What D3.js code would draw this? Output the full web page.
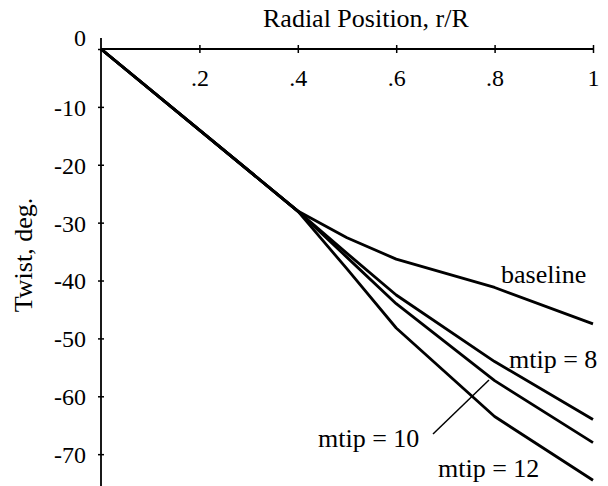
<!DOCTYPE html>
<html><head><meta charset="utf-8">
<script src="https://cdn.jsdelivr.net/npm/d3@7"></script>
<style>
html,body{margin:0;padding:0;background:#fff;}
svg{display:block;font-family:"Liberation Serif","Times New Roman",serif;}
</style></head>
<body>
<svg id="chart" width="608" height="486"></svg>
<script>
const radial = [0, 0.4, 0.5, 0.6, 0.8, 1.0];
const baseline = [0, -28, -32.6, -36.3, -41.2, -47.5];
const mtip8  = [0, -28, -35.3, -42.5, -54.0, -64.0];
const mtip10 = [0, -28, -36.0, -44.0, -57.3, -68.0];
const mtip12 = [0, -28, -38.0, -48.2, -63.5, -74.5];
const xTicks = [0.2, 0.4, 0.6, 0.8, 1];
const yTicks = [0, -10, -20, -30, -40, -50, -60, -70];
const seriesNames = ["baseline", "mtip = 8", "mtip = 10", "mtip = 12"];

const svg = d3.select("#chart");
const x = d3.scaleLinear().domain([0, 1]).range([101, 593]);
const y = d3.scaleLinear().domain([0, -75.5]).range([49, 486]);

// Y axis
const yAxis = svg.append("g").attr("transform", `translate(${x(0)},0)`)
  .call(d3.axisLeft(y).tickValues(yTicks).tickFormat(d => d === 0 ? "0" : String(d)).tickSizeOuter(0));
yAxis.select(".domain").remove();
yAxis.append("line").attr("x1", 0).attr("x2", 0).attr("y1", 38).attr("y2", 486)
  .attr("stroke", "#000").attr("stroke-width", 1.8);
yAxis.selectAll(".tick line").attr("x1", -3).attr("x2", 3).attr("stroke", "#000").attr("stroke-width", 1.5);
yAxis.selectAll(".tick text").attr("x", -15).attr("font-size", 24)
  .attr("font-family", "Liberation Serif").attr("fill", "#000")
  .attr("dy", d => d === 0 ? "-0.15em" : "0.35em");

// X axis (top)
const xAxis = svg.append("g").attr("transform", `translate(0,${y(0)})`)
  .call(d3.axisBottom(x).tickValues(xTicks)
    .tickFormat(d => d === 1 ? "1" : d3.format(".1f")(d).replace(/^0/, "")).tickSizeOuter(0));
xAxis.select(".domain").remove();
xAxis.append("line").attr("x1", x(0)).attr("x2", x(1)).attr("y1", 0).attr("y2", 0)
  .attr("stroke", "#000").attr("stroke-width", 1.8);
xAxis.selectAll(".tick line").attr("y1", -4).attr("y2", 4).attr("stroke", "#000").attr("stroke-width", 1.5);
xAxis.selectAll(".tick text").attr("y", 29).attr("dy", "0.35em").attr("font-size", 24)
  .attr("font-family", "Liberation Serif").attr("fill", "#000");

// Axis titles
svg.append("text").attr("x", 263).attr("y", 27).attr("font-size", 26)
  .text("Radial Position, r/R");
svg.append("text").attr("transform", "translate(32,255) rotate(-90)")
  .attr("text-anchor", "middle").attr("font-size", 26).text("Twist, deg.");

// Lines
const line = d3.line().x((d, i) => x(radial[i])).y(d => y(d));
[baseline, mtip8, mtip10, mtip12].forEach(s => {
  svg.append("path").datum(s).attr("d", line).attr("fill", "none")
    .attr("stroke", "#000").attr("stroke-width", 2.8).attr("stroke-linejoin", "round");
});

// Labels
const labelPos = [[501, 283], [509, 368], [318, 447], [438, 477]];
seriesNames.forEach((n, i) => {
  svg.append("text").attr("x", labelPos[i][0]).attr("y", labelPos[i][1])
    .attr("font-size", 26).text(n);
});
// leader line for mtip = 10
svg.append("line").attr("x1", 433).attr("y1", 434).attr("x2", 489).attr("y2", 380)
  .attr("stroke", "#000").attr("stroke-width", 1.5);
</script>
</body></html>
